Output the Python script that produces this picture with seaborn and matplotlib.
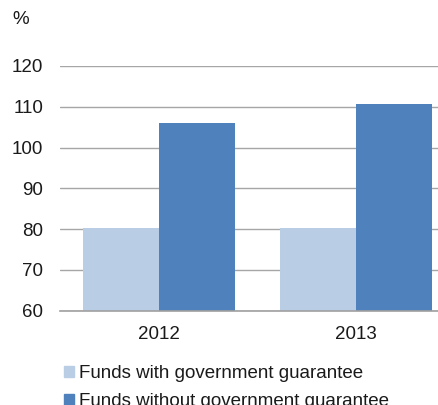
import matplotlib
matplotlib.use("Agg")
import matplotlib.pyplot as plt
import seaborn as sns
import pandas as pd

years = ["2012", "2013"]
with_guarantee = [80.2, 80.3]
without_guarantee = [106.0, 110.7]
series_names = ["Funds with government guarantee", "Funds without government guarantee"]
colors = ["#b9cde5", "#4f81bd"]
y_ticks = [60, 70, 80, 90, 100, 110, 120]

sns.set_theme(style="white")
plt.rcParams["font.family"] = ["Liberation Sans", "DejaVu Sans"]

df = pd.DataFrame({
    "year": years * 2,
    "value": with_guarantee + without_guarantee,
    "series": [series_names[0]] * 2 + [series_names[1]] * 2,
})

fig = plt.figure(figsize=(4.39, 4.05), dpi=100)
ax = fig.add_axes([60.5 / 439, 1 - 310.7 / 405, 394 / 439, (310.7 - 66) / 405])

sns.barplot(data=df, x="year", y="value", hue="series", palette=colors,
            width=0.77, gap=0, saturation=1, linewidth=0, ax=ax, legend=False)

ax.set_ylim(60, 120)
ax.set_xlim(-0.5, 1.5)
ax.set_yticks(y_ticks)
ax.set_xlabel("")
ax.set_ylabel("")
for s in ["top", "right", "left"]:
    ax.spines[s].set_visible(False)
ax.spines["bottom"].set_color("#a0a0a0")
ax.spines["bottom"].set_linewidth(1.2)
ax.yaxis.grid(True, color="#a6a6a6", linewidth=1.0)
ax.set_axisbelow(True)
ax.tick_params(axis="both", length=0, labelsize=13.5, colors="#1a1a1a")
ax.tick_params(axis="y", pad=12.5)
ax.tick_params(axis="x", pad=11)

fig.text(12 / 439, 1 - 20 / 405, "%", fontsize=13.5, color="#1a1a1a", va="center", ha="left")

handles = [plt.Rectangle((0, 0), 1, 1, color=c) for c in colors]
fig.legend(handles, series_names, loc="upper left", bbox_to_anchor=(55 / 439, 1 - 356 / 405),
           frameon=False, fontsize=13.5, handlelength=0.53, handleheight=0.53,
           handletextpad=0.27, labelspacing=0.55, borderpad=0, labelcolor="#1a1a1a")

fig.savefig("out.png", dpi=100)
